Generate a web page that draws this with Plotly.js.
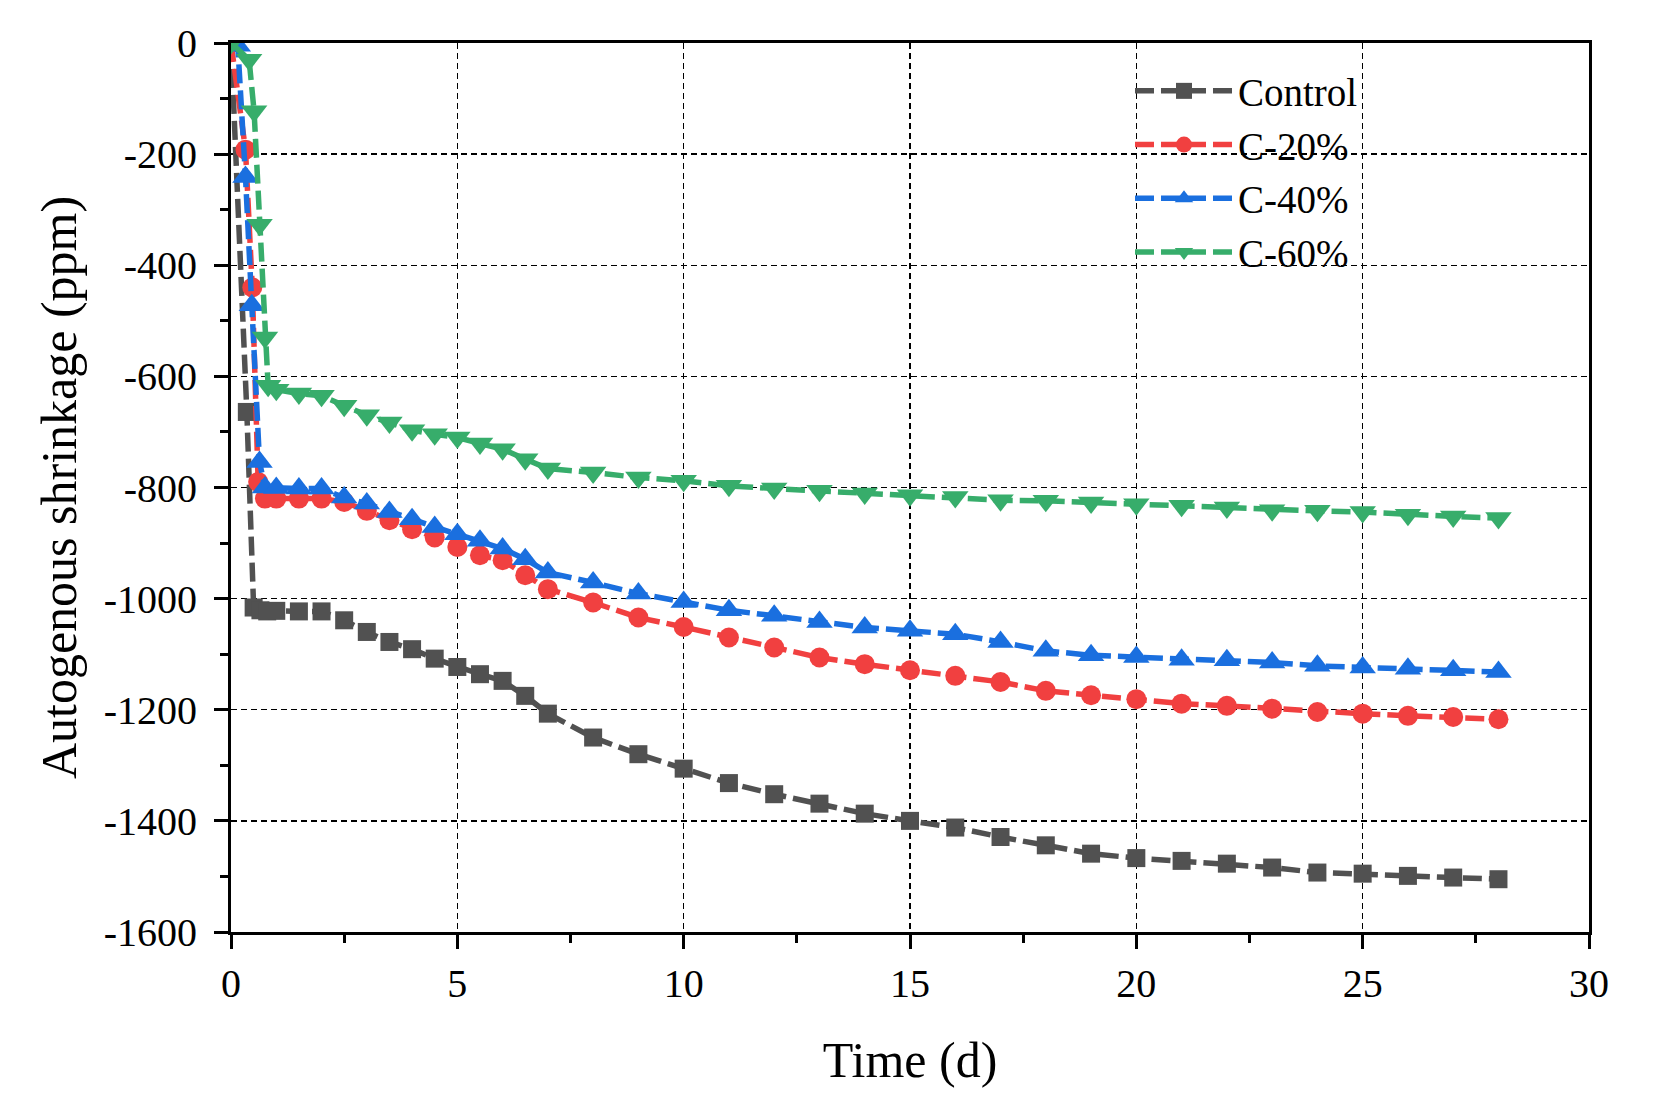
<!DOCTYPE html>
<html>
<head>
<meta charset="utf-8">
<script src="https://cdn.plot.ly/plotly-3.0.1.min.js"></script>
<style>
  html, body { margin: 0; padding: 0; background: #fff; }
  #chart { width: 1660px; height: 1120px; }
</style>
</head>
<body>
<div id="chart"></div>
<script>
// early ages (d) differ a little per mix, later readings are shared
var earlyControl = [0, 0.35, 0.5, 0.65, 0.8, 1.0];
var earlyC20 = [0, 0.32, 0.47, 0.6, 0.75, 1.0];
var earlyC40 = [0, 0.15, 0.32, 0.46, 0.63, 0.75, 1.0];
var earlyC60 = [0, 0.4, 0.51, 0.63, 0.75, 0.82, 1.0];
var lateDays = [1.5, 2, 2.5, 3, 3.5, 4, 4.5, 5, 5.5, 6, 6.5, 7, 8, 9, 10, 11, 12, 13, 14,
  15, 16, 17, 18, 19, 20, 21, 22, 23, 24, 25, 26, 27, 28];

var control = [0, -664, -1016, -1021, -1023, -1022,
  -1023, -1023, -1039, -1060, -1078, -1091, -1108, -1123, -1136, -1148, -1175, -1207,
  -1250, -1280, -1306, -1332, -1352, -1369, -1387, -1400, -1412, -1429, -1444, -1459,
  -1467, -1472, -1477, -1484, -1493, -1495, -1499, -1502, -1505];
var c20 = [0, -192, -440, -790, -820, -820,
  -820, -820, -826, -842, -859, -875, -890, -907, -922, -931, -958, -983,
  -1007, -1034, -1051, -1070, -1088, -1106, -1118, -1129, -1139, -1150, -1166, -1174,
  -1181, -1189, -1193, -1198, -1204, -1207, -1211, -1213, -1217];
var c40 = [0, -5, -241, -472, -754, -800, -801,
  -802, -802, -818, -829, -844, -857, -871, -884, -896, -910, -929, -953,
  -971, -991, -1006, -1021, -1031, -1042, -1052, -1058, -1064, -1078, -1094, -1102,
  -1105, -1110, -1111, -1115, -1121, -1124, -1126, -1129, -1132];
var c60 = [0, -30, -123, -327, -530, -617, -624,
  -631, -635, -653, -670, -683, -697, -704, -710, -721, -731, -749, -766,
  -773, -782, -788, -797, -802, -806, -811, -814, -817, -823, -824, -827,
  -830, -833, -836, -841, -842, -844, -849, -852, -855];

var seriesNames = ['Control', 'C-20%', 'C-40%', 'C-60%'];
var xTickVals = [0, 5, 10, 15, 20, 25, 30];
var yTickVals = [0, -200, -400, -600, -800, -1000, -1200, -1400, -1600];
var yTickText = ['0', '-200', '-400', '-600', '-800', '-1000', '-1200', '-1400', '-1600'];

var colors = ['#515151', '#F14040', '#1A6FDF', '#37AD6B'];
var symbols = ['square', 'circle', 'triangle-up', 'triangle-down'];
var sizes = [18, 20, 23, 23];
var xs = [earlyControl, earlyC20, earlyC40, earlyC60].map(function (e) { return e.concat(lateDays); });
var ys = [control, c20, c40, c60];

var data = ys.map(function (y, i) {
  return {
    x: xs[i],
    y: y,
    name: seriesNames[i],
    mode: 'lines+markers',
    line: { color: colors[i], width: 5.5, dash: '19px,7px' },
    marker: { color: colors[i], symbol: symbols[i], size: sizes[i], line: { width: 0 } }
  };
});

var axisFont = { family: 'Liberation Serif, Times New Roman, serif', size: 40, color: '#000' };

var layout = {
  width: 1660,
  height: 1120,
  paper_bgcolor: '#fff',
  plot_bgcolor: '#fff',
  font: axisFont,
  margin: { l: 231, r: 71, t: 43, b: 188 },
  showlegend: true,
  legend: {
    x: 0.662, y: 0.982, xanchor: 'left', yanchor: 'top',
    bgcolor: 'rgba(0,0,0,0)',
    font: { family: 'Liberation Serif, serif', size: 39, color: '#000' },
    itemwidth: 98,
    tracegroupgap: 0
  },
  xaxis: {
    range: [0, 30],
    tickmode: 'array',
    tickvals: xTickVals,
    ticks: 'outside', ticklen: 14, tickwidth: 3, tickcolor: '#000',
    ticklabelstandoff: 0,
    minor: { tickmode: 'linear', tick0: 0, dtick: 2.5, ticks: 'outside', ticklen: 8, tickwidth: 3, tickcolor: '#000', showgrid: false },
    showline: true, linewidth: 3, linecolor: '#000', mirror: true,
    showgrid: true, gridcolor: '#000', gridwidth: 1.3, griddash: '6px,4px',
    zeroline: false,
    tickfont: axisFont,
    title: { text: 'Time (d)', font: { family: 'Liberation Serif, serif', size: 50, color: '#000' }, standoff: 37 }
  },
  yaxis: {
    range: [-1600, 0],
    tickmode: 'array',
    tickvals: yTickVals,
    ticktext: yTickText,
    ticks: 'outside', ticklen: 14, tickwidth: 3, tickcolor: '#000',
    ticklabelstandoff: 9,
    minor: { tickmode: 'linear', tick0: 0, dtick: 100, ticks: 'outside', ticklen: 8, tickwidth: 3, tickcolor: '#000', showgrid: false },
    showline: true, linewidth: 3, linecolor: '#000', mirror: true,
    showgrid: true, gridcolor: '#000', gridwidth: 1.3, griddash: '6px,4px',
    zeroline: false,
    tickfont: axisFont,
    title: { text: 'Autogenous shrinkage (ppm)', font: { family: 'Liberation Serif, serif', size: 50, color: '#000' }, standoff: 12 }
  }
};

Plotly.newPlot('chart', data, layout, { displayModeBar: false, staticPlot: true });
</script>
</body>
</html>
